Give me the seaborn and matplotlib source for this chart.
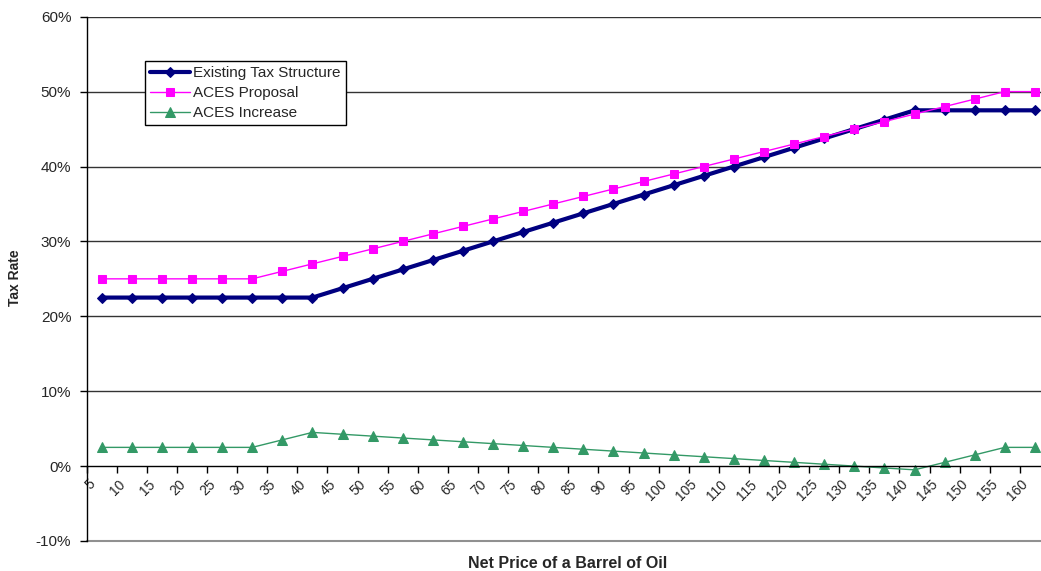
import matplotlib
matplotlib.use("Agg")
import matplotlib.pyplot as plt
import matplotlib.transforms as mtransforms
import seaborn as sns
import pandas as pd
from matplotlib.ticker import FuncFormatter, FixedLocator

# ---- data ----
tick_prices = [5, 10, 15, 20, 25, 30, 35, 40, 45, 50, 55, 60, 65, 70, 75, 80,
               85, 90, 95, 100, 105, 110, 115, 120, 125, 130, 135, 140, 145, 150, 155, 160]
price_mid = [7.5, 12.5, 17.5, 22.5, 27.5, 32.5, 37.5, 42.5, 47.5, 52.5, 57.5, 62.5,
             67.5, 72.5, 77.5, 82.5, 87.5, 92.5, 97.5, 102.5, 107.5, 112.5, 117.5, 122.5,
             127.5, 132.5, 137.5, 142.5, 147.5, 152.5, 157.5, 162.5]
existing = [22.5, 22.5, 22.5, 22.5, 22.5, 22.5, 22.5, 22.5, 23.75, 25, 26.25, 27.5,
            28.75, 30, 31.25, 32.5, 33.75, 35, 36.25, 37.5, 38.75, 40, 41.25, 42.5,
            43.75, 45, 46.25, 47.5, 47.5, 47.5, 47.5, 47.5]
aces = [25, 25, 25, 25, 25, 25, 26, 27, 28, 29, 30, 31, 32, 33, 34, 35, 36, 37, 38,
        39, 40, 41, 42, 43, 44, 45, 46, 47, 48, 49, 50, 50]
increase = [2.5, 2.5, 2.5, 2.5, 2.5, 2.5, 3.5, 4.5, 4.25, 4.0, 3.75, 3.5, 3.25, 3.0,
            2.75, 2.5, 2.25, 2.0, 1.75, 1.5, 1.25, 1.0, 0.75, 0.5, 0.25, 0.0, -0.25,
            -0.5, 0.5, 1.5, 2.5, 2.5]
series_names = ["Existing Tax Structure", "ACES Proposal", "ACES Increase"]
y_ticks = [-10, 0, 10, 20, 30, 40, 50, 60]

df = pd.DataFrame({"price": price_mid, series_names[0]: existing,
                   series_names[1]: aces, series_names[2]: increase})

sns.set_style("white")
plt.rcParams["font.family"] = ["Liberation Sans", "DejaVu Sans"]

fig = plt.figure(figsize=(10.41, 5.71), dpi=100)
ax = fig.add_axes([86.6 / 1041, 1 - 541 / 571, 1 - 86.6 / 1041, (541 - 16.7) / 571])

styles = [
    dict(color="#000080", marker="D", markersize=5.5, linewidth=3.0),
    dict(color="#FF00FF", marker="s", markersize=6, linewidth=1.0),
    dict(color="#339966", marker="^", markersize=6.5, linewidth=1.0),
]
for name, st in zip(series_names, styles):
    sns.lineplot(data=df, x="price", y=name, ax=ax, label=name,
                 markeredgecolor=st["color"], **st)

ax.set_xlim(5, 163.5)
ax.set_ylim(-10, 60)

# horizontal gridlines
for yv in y_ticks:
    if yv in (-10, 0):
        continue
    ax.axhline(yv, color="#333333", linewidth=1.0, zorder=0)
ax.axhline(-10, color="#909090", linewidth=1.5, zorder=0, clip_on=False)

for s in ["top", "right"]:
    ax.spines[s].set_visible(False)
ax.spines["bottom"].set_position(("data", 0))
ax.spines["bottom"].set_color("black")
ax.spines["bottom"].set_linewidth(1.0)
ax.spines["left"].set_color("black")
ax.spines["left"].set_linewidth(1.0)

ax.yaxis.set_major_locator(FixedLocator(y_ticks))
ax.yaxis.set_major_formatter(FuncFormatter(lambda v, p: f"{v:.0f}%"))
ax.xaxis.set_major_locator(FixedLocator(tick_prices))
ax.set_xticklabels([str(t) for t in tick_prices], rotation=45, ha="right", va="top")

ax.tick_params(axis="y", direction="out", length=5, width=1, color="black",
               labelsize=11, pad=6, left=True)
ax.tick_params(axis="x", direction="out", length=5, width=1, color="black",
               labelsize=10, pad=3, bottom=True)

offset = mtransforms.ScaledTranslation(11 / 100, 0, fig.dpi_scale_trans)
for lab in ax.get_xticklabels():
    lab.set_transform(lab.get_transform() + offset)

ax.set_xlabel("")
ax.set_ylabel("")
fig.text(568 / 1041, 1 - 563.5 / 571, "Net Price of a Barrel of Oil", ha="center",
         va="center", fontsize=11.5, fontweight="bold")
fig.text(15 / 1041, 1 - 278 / 571, "Tax Rate", ha="center", va="center",
         rotation=90, fontsize=10, fontweight="bold")

leg = ax.legend(loc="upper left", bbox_to_anchor=(145 / 1041, 1 - 61 / 571),
                bbox_transform=fig.transFigure, frameon=True, fancybox=False,
                fontsize=11, handlelength=2.6, borderpad=0.35, labelspacing=0.38,
                handletextpad=0.2, borderaxespad=0)
leg.get_frame().set_edgecolor("black")
leg.get_frame().set_linewidth(1.0)
leg.get_frame().set_facecolor("white")
leg.get_frame().set_alpha(1)

fig.savefig("out.png", dpi=100)
